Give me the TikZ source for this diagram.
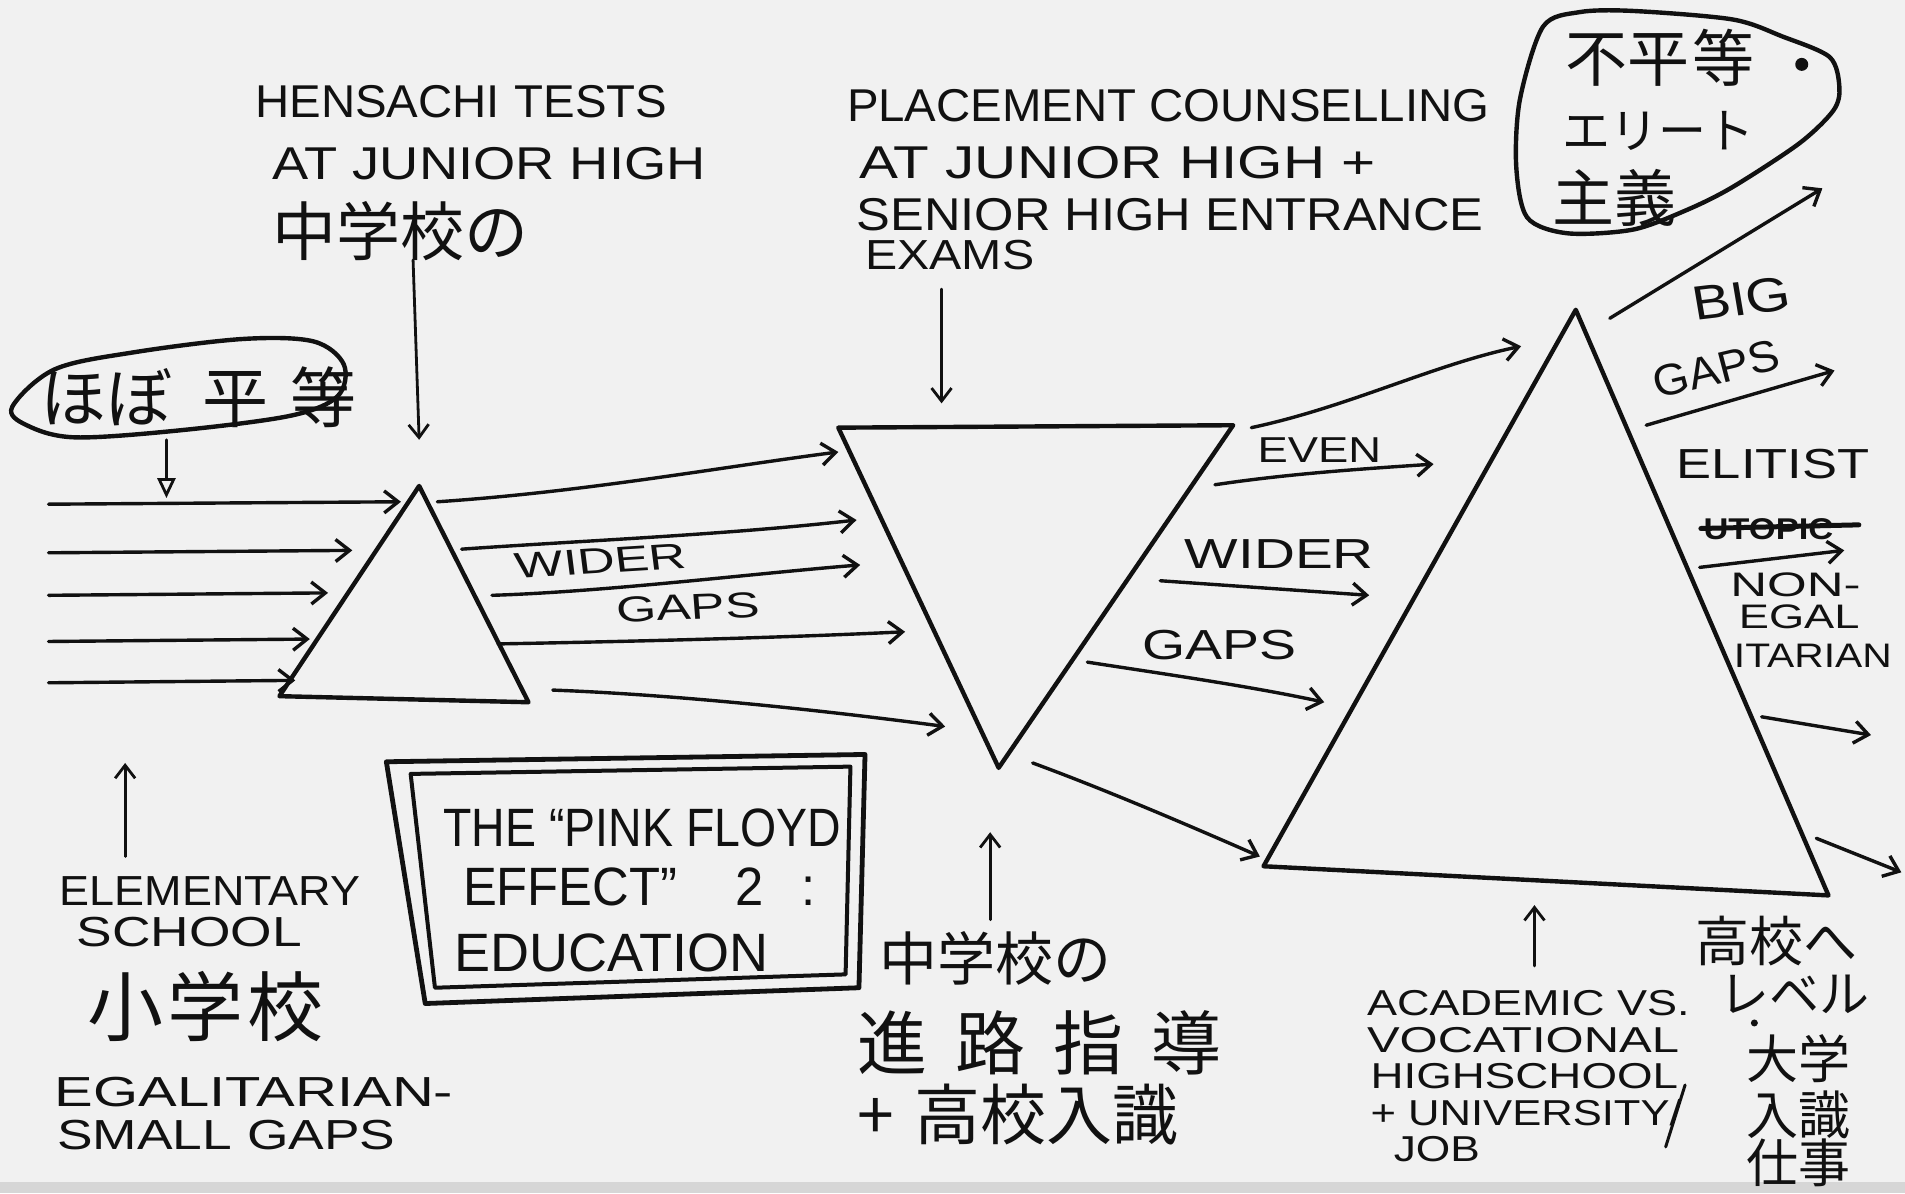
\documentclass[tikz,border=0pt]{standalone}
\usepackage{fontspec}
\setmainfont{Liberation Sans}
\newfontfamily\jp{Noto Sans CJK JP}
\usetikzlibrary{arrows.meta}

\definecolor{paper}{HTML}{F1F1F1}
\definecolor{paperedge}{HTML}{D6D6D6}
\definecolor{ink}{HTML}{111111}

\begin{document}
\begin{tikzpicture}[x=1.215pt,y=-1.215pt,
  outline/.style={draw=ink, line width=4.4pt, line cap=round, line join=round},
  flow/.style={draw=ink, line width=3.4pt, line cap=round,
    -{Straight Barb[length=14pt,width=22pt,line width=3.4pt]}},
  pointer/.style={draw=ink, line width=2.8pt, line cap=round,
    -{Straight Barb[length=13pt,width=20pt,line width=2.8pt]}},
  hollow/.style={draw=ink, line width=2.8pt, line cap=round,
    -{Triangle[open,length=20pt,width=18pt,line width=2.8pt]}},
  lab/.style={anchor=base west, inner sep=0pt, text=ink},
  largecap/.style={lab, font=\fontsize{46}{52}\selectfont},
  midcap/.style={lab, font=\fontsize{42}{48}\selectfont},
  smallcap/.style={lab, font=\fontsize{36}{42}\selectfont},
  tinycap/.style={lab, font=\fontsize{34}{40}\selectfont},
  boxcap/.style={lab, font=\fontsize{54}{60}\selectfont},
  kanji/.style={lab, font=\jp\fontsize{#1}{#1}\selectfont},
]
% paper
\fill[paper] (0,0) rectangle (1568,982);
\fill[paperedge] (0,973) rectangle (1568,982);
\useasboundingbox (0,0) rectangle (1568,982);

% ---- the three triangles ----
\coordinate (s1) at (345,400); \coordinate (s2) at (435,578); \coordinate (s3) at (230,573);
\draw[outline] (s1) -- (s2) -- (s3) -- cycle;
\coordinate (i1) at (690,352); \coordinate (i2) at (1015,350); \coordinate (i3) at (822,632);
\draw[outline] (i1) -- (i2) -- (i3) -- cycle;
\coordinate (g1) at (1297,255); \coordinate (g2) at (1505,737); \coordinate (g3) at (1040,713);
\draw[outline] (g1) -- (g2) -- (g3) -- cycle;

% ---- cloud: nearly equal ----
\draw[outline] plot[smooth cycle, tension=0.55] coordinates
  {(10,335) (45,304) (110,290) (200,279) (258,281) (283,300) (278,326) (240,342) (150,354) (62,360) (22,350)};
\node[kanji=66] (hobo) at (33,348) {ほぼ\hspace{30pt}平\hspace{22pt}等};

% ---- cloud: inequality / elitism ----
\draw[outline] plot[smooth cycle, tension=0.5] coordinates
  {(1270,22) (1300,10) (1344,9) (1426,16) (1467,30) (1506,47) (1514,72) (1509,91) (1481,118)
   (1426,154) (1388,173) (1344,189) (1290,192) (1257,179) (1248,137) (1251,82)};
\node[kanji=62] (fubyo) at (1288,67) {不平\hspace{4pt}等};
\fill[ink] (1483,53) circle (6.5pt);
\node[kanji=48] (elite) at (1286,122) {エリート};
\node[kanji=62] (shugi) at (1278,182) {主義};

% ---- left inputs into elementary school ----
\foreach \y/\xe [count=\i] in {415/330, 455/290, 490/270, 528/255, 562/243} {
  \coordinate (ls\i) at (40,\y);
  \coordinate (le\i) at (\xe,\y-2);
  \draw[flow] (ls\i) -- (le\i);
}

% ---- elementary school to junior high ----
\coordinate (b1s) at (360,413); \coordinate (b1e) at (690,372);
\coordinate (b2s) at (380,452); \coordinate (b2e) at (705,428);
\coordinate (b3s) at (405,490); \coordinate (b3e) at (708,465);
\coordinate (b4s) at (410,530); \coordinate (b4e) at (745,520);
\coordinate (b5s) at (455,568); \coordinate (b5e) at (778,598);
\draw[flow] (b1s) .. controls (480,405) and (590,385) .. (b1e);
\draw[flow] (b2s) .. controls (480,445) and (600,440) .. (b2e);
\draw[flow] (b3s) .. controls (500,487) and (620,472) .. (b3e);
\draw[flow] (b4s) .. controls (520,528) and (640,525) .. (b4e);
\draw[flow] (b5s) .. controls (560,572) and (680,585) .. (b5e);

% ---- junior high to senior high ----
\coordinate (c1s) at (1030,352); \coordinate (c1e) at (1252,285);
\coordinate (c2s) at (1000,399); \coordinate (c2e) at (1180,382);
\coordinate (c3s) at (955,478);  \coordinate (c3e) at (1127,490);
\coordinate (c4s) at (895,545);  \coordinate (c4e) at (1090,578);
\coordinate (c5s) at (850,628);  \coordinate (c5e) at (1037,705);
\draw[flow] (c1s) .. controls (1110,335) and (1180,300) .. (c1e);
\draw[flow] (c2s) .. controls (1060,390) and (1120,386) .. (c2e);
\draw[flow] (c3s) -- (c3e);
\draw[flow] (c4s) .. controls (960,555) and (1030,565) .. (c4e);
\draw[flow] (c5s) .. controls (910,650) and (980,680) .. (c5e);

% ---- senior high onwards ----
\coordinate (d1s) at (1325,262); \coordinate (d1e) at (1500,155);
\coordinate (d2s) at (1355,350); \coordinate (d2e) at (1510,305);
\coordinate (d3s) at (1399,467); \coordinate (d3e) at (1518,453);
\coordinate (d4s) at (1450,590); \coordinate (d4e) at (1540,605);
\coordinate (d5s) at (1495,690); \coordinate (d5e) at (1565,718);
\draw[flow] (d1s) -- (d1e);
\draw[flow] (d2s) -- (d2e);
\draw[flow] (d3s) -- (d3e);
\draw[flow] (d4s) -- (d4e);
\draw[flow] (d5s) -- (d5e);

% ---- top captions ----
\node[largecap, xscale=1.03] (hensachi) at (210,97) {HENSACHI\hspace{14pt}TESTS};
\node[largecap, xscale=1.18] (atjr1) at (224,148) {AT JUNIOR HIGH};
\node[kanji=64] (chu1) at (224,210) {中学校の};
\coordinate (p1s) at (340,214); \coordinate (p1e) at (345,362);
\draw[pointer] (p1s) -- (p1e);

\node[largecap, xscale=1.03] (placement) at (697,100) {PLACEMENT COUNSELLING};
\node[largecap, xscale=1.27] (atjr2) at (707,147) {AT JUNIOR HIGH +};
\node[largecap, xscale=1.1] (senior) at (705,190) {SENIOR HIGH ENTRANCE};
\node[midcap, xscale=1.15] (exams) at (712,222) {EXAMS};
\coordinate (p2s) at (775,238); \coordinate (p2e) at (775,332);
\draw[pointer] (p2s) -- (p2e);

\coordinate (p0s) at (137,362); \coordinate (p0e) at (137,410);
\draw[hollow] (p0s) -- (p0e);

% ---- flow labels ----
\node[smallcap, xscale=1.43, rotate=5] (wider1) at (425,476) {WIDER};
\node[smallcap, xscale=1.43, rotate=3] (gaps1) at (508,512) {GAPS};
\node[smallcap, xscale=1.26] (even) at (1035,381) {EVEN};
\node[midcap, xscale=1.35] (wider2) at (975,468) {WIDER};
\node[midcap, xscale=1.32] (gaps2) at (940,543) {GAPS};
\node[lab, font=\fontsize{48}{52}\selectfont, xscale=1.2, rotate=8] (big1) at (1395,264) {BIG};
\node[lab, font=\fontsize{44}{50}\selectfont, xscale=1.05, rotate=14] (gaps3) at (1364,328) {GAPS};
\node[midcap, xscale=1.25] (elitist) at (1380,394) {ELITIST};
\node[lab, font=\bfseries\fontsize{30}{34}\selectfont, xscale=1.15] (struck) at (1402,444) {UTOPIC};
\draw[ink, line width=5pt, line cap=round] (1400,435) -- (1530,432);
\node[tinycap, xscale=1.5] (non) at (1424,491) {NON-};
\node[tinycap, xscale=1.33] (egal) at (1431,517) {EGAL};
\node[tinycap, xscale=1.2] (itarian) at (1427,549) {ITARIAN};

% ---- elementary school caption ----
\coordinate (p3s) at (103,705); \coordinate (p3e) at (103,628);
\draw[pointer] (p3s) -- (p3e);
\node[midcap, xscale=1.07] (elem) at (49,745) {ELEMENTARY};
\node[midcap, xscale=1.27] (school) at (63,779) {SCHOOL};
\node[kanji=76] (sho) at (72,852) {小\hspace{4pt}学\hspace{4pt}校};
\node[midcap, xscale=1.38] (egalit) at (45,911) {EGALITARIAN-};
\node[midcap, xscale=1.27] (smallgaps) at (47,946) {SMALL GAPS};

% ---- title box ----
\draw[outline, line width=4.8pt] (318,627) -- (712,621) -- (707,813) -- (350,826) -- cycle;
\draw[outline, line width=4pt] (338,637) -- (700,631) -- (696,802) -- (358,813) -- cycle;
\node[boxcap, xscale=0.86] (pf1) at (365,697) {THE ``PINK FLOYD};
\node[boxcap, xscale=0.94] (pf2) at (381,745) {EFFECT''\hspace{62pt}2\hspace{40pt}:};
\node[boxcap] (pf3) at (374,800) {EDUCATION};

% ---- junior high guidance caption ----
\coordinate (p4s) at (815,757); \coordinate (p4e) at (815,685);
\draw[pointer] (p4s) -- (p4e);
\node[kanji=58] (chu2) at (724,807) {中学校の};
\node[kanji=70] (shinro) at (706,880) {進\hspace{28pt}路\hspace{28pt}指\hspace{28pt}導};
\node[kanji=66] (koukou) at (706,938) {+\hspace{20pt}高校入識};

% ---- senior high caption ----
\coordinate (p5s) at (1263,795); \coordinate (p5e) at (1263,745);
\draw[pointer] (p5s) -- (p5e);
\node[smallcap, xscale=1.25] (acad) at (1125,836) {ACADEMIC VS.};
\node[smallcap, xscale=1.36] (voca) at (1125,866) {VOCATIONAL};
\node[smallcap, xscale=1.27] (highs) at (1128,896) {HIGHSCHOOL};
\node[smallcap, xscale=1.21] (univ) at (1128,926) {+ UNIVERSITY/};
\node[smallcap, xscale=1.23] (job) at (1147,956) {JOB};
\draw[ink, line width=3pt, line cap=round] (1387,893) -- (1371,944);

\node[kanji=54] (kouhe) at (1395,791) {高校へ};
\node[kanji=50] (level) at (1415,833) {レベル};
\fill[ink] (1444,842) circle (3.5pt);
\node[kanji=52] (daigaku) at (1437,888) {大学};
\node[kanji=52] (nyushi) at (1437,934) {入識};
\node[kanji=52] (shigoto) at (1437,973) {仕事};
\end{tikzpicture}
\end{document}
